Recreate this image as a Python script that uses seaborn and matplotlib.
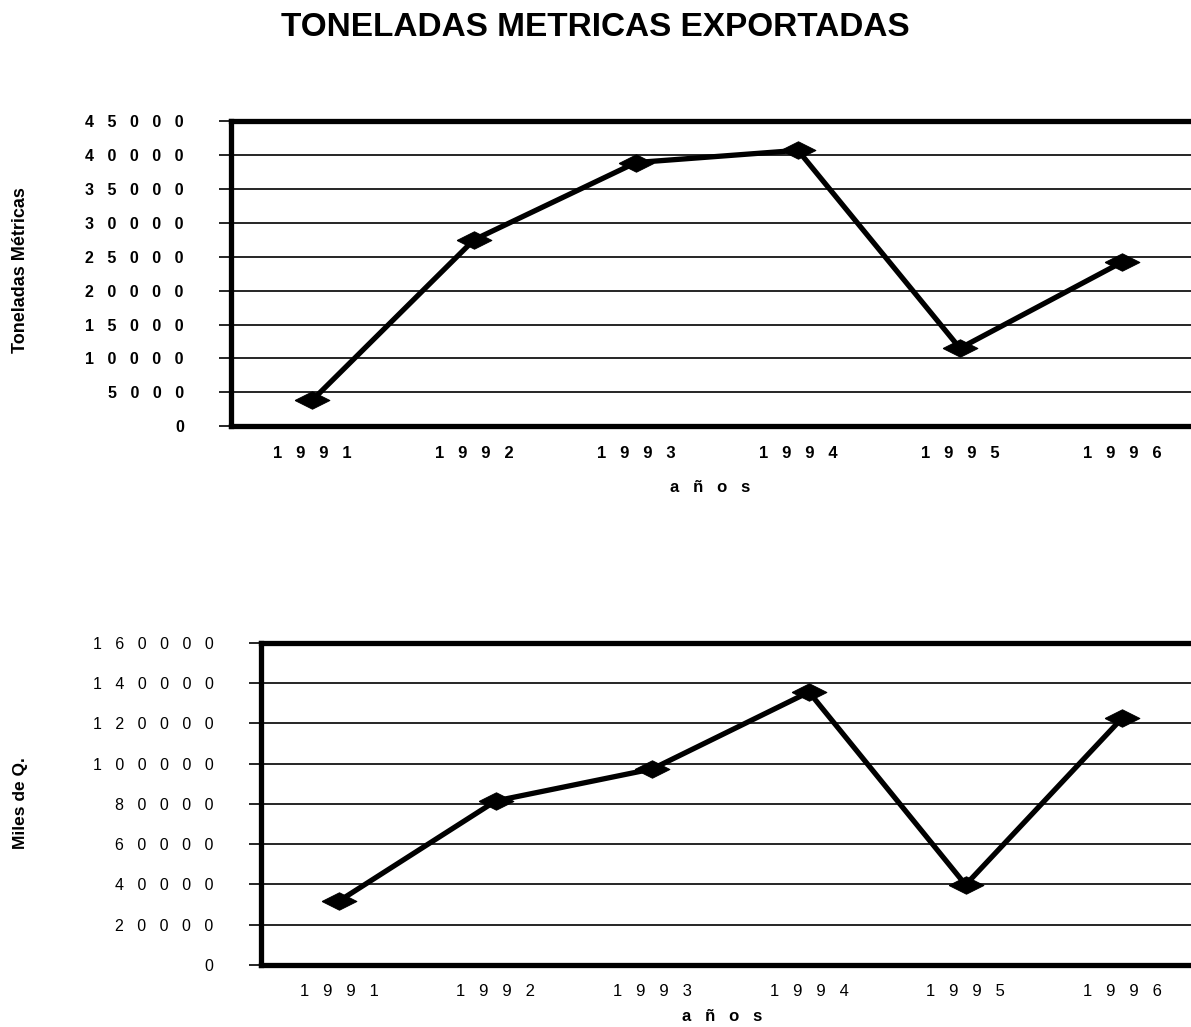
import numpy as np
import pandas as pd
import matplotlib
matplotlib.use("Agg")
import matplotlib.pyplot as plt
import seaborn as sns

# Datos
years = ["1991", "1992", "1993", "1994", "1995", "1996"]
toneladas = [3800, 27500, 38900, 40700, 11500, 24200]
miles_q = [31800, 81500, 97400, 135600, 39800, 122700]

ticks_ton = [0, 5000, 10000, 15000, 20000, 25000, 30000, 35000, 40000, 45000]
ticks_q = [0, 20000, 40000, 60000, 80000, 100000, 120000, 140000, 160000]

sns.set_style("white")
plt.rcParams["font.family"] = ["Liberation Sans", "DejaVu Sans"]
plt.rcParams["text.color"] = "black"
plt.rcParams["axes.labelcolor"] = "black"
plt.rcParams["xtick.color"] = "black"
plt.rcParams["ytick.color"] = "black"


def spaced(s, gap="   "):
    return gap.join(list(str(s)))


df1 = pd.DataFrame({"anio": years, "valor": toneladas})
df2 = pd.DataFrame({"anio": years, "valor": miles_q})

fig = plt.figure(figsize=(11.91, 10.27), dpi=100)
ax1 = fig.add_axes([0.194, 0.585, 0.816, 0.297])
ax2 = fig.add_axes([0.219, 0.0604, 0.789, 0.3136])

diamond = [(-1, 0), (0, 0.5), (1, 0), (0, -0.5), (-1, 0)]

for ax, df, yt, ymax, tick_bold, lab_x, lab_y in [
    (ax1, df1, ticks_ton, 45000, "bold", 0.493, -0.178),
    (ax2, df2, ticks_q, 160000, "normal", 0.491, -0.136),
]:
    sns.lineplot(data=df, x="anio", y="valor", ax=ax, color="black",
                 linewidth=3.8, marker=diamond, markersize=25,
                 markerfacecolor="black", markeredgecolor="black")
    ax.set_xlim(-0.5, 5.5)
    ax.set_ylim(0, ymax)
    ax.set_yticks(yt)
    ax.set_yticklabels([spaced(v) for v in yt], fontsize=11.5,
                       fontweight=tick_bold)
    ax.set_xticks(range(len(years)))
    ax.set_xticklabels([spaced(y) for y in years], fontsize=12,
                       fontweight=tick_bold)
    ax.set_xticks(np.arange(-0.5, 6, 1), minor=True)
    ax.tick_params(axis="x", which="major", length=0, pad=14)
    ax.tick_params(axis="x", which="minor", length=6, width=1.2,
                   direction="out", color="black")
    ax.tick_params(axis="y", length=9, width=1.2, direction="out",
                   color="black", pad=25, left=True)
    ax.yaxis.grid(True, color="black", linewidth=1.2)
    ax.xaxis.grid(False)
    ax.set_axisbelow(True)
    for side in ["left", "top", "bottom", "right"]:
        ax.spines[side].set_visible(True)
        ax.spines[side].set_color("black")
        ax.spines[side].set_linewidth(3.8)
    ax.set_xlabel("a   ñ   o   s", fontsize=12, fontweight="bold")
    ax.xaxis.set_label_coords(lab_x, lab_y)
    ax.set_ylabel("")
    ax.set_facecolor("white")

fig.text(0.017, 1 - 270 / 1027, "Toneladas Métricas", rotation=90,
         ha="center", va="center", fontsize=13, fontweight="bold")
fig.text(0.017, 1 - 803 / 1027, "Miles de Q.", rotation=90,
         ha="center", va="center", fontsize=12.5, fontweight="bold")

fig.text(0.5, 1 - 27 / 1027, "TONELADAS METRICAS EXPORTADAS",
         ha="center", va="center", fontsize=24, fontweight="bold")

fig.savefig("out.png", dpi=100)
